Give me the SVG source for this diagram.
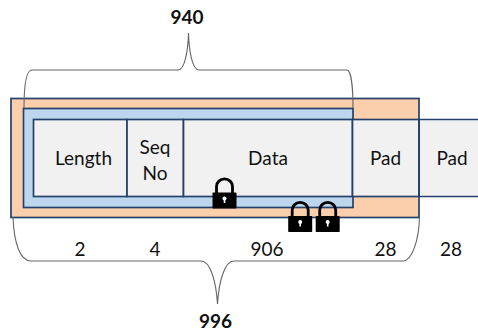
<svg xmlns="http://www.w3.org/2000/svg" width="478" height="334" viewBox="0 0 478 334">
<style>
.box{stroke:#25406b;stroke-width:1.7}
.brace{fill:none;stroke:#666;stroke-width:1.1}
.t{font-family:Lato,"Open Sans",sans-serif;font-size:19px;fill:#111;text-anchor:middle}
.b{font-weight:700}
</style>
<defs>
<g id="lock">
<path d="M-8 1V-6a8 7.600 0 0 1 16 0V1" fill="none" stroke="#000" stroke-width="2.800"/>
<rect x="-12" y="0" width="24" height="16" rx="0.800" fill="#000"/>
<circle cx="0" cy="6" r="2" fill="#fff"/>
<rect x="-0.800" y="6.500" width="1.600" height="4" fill="#fff"/>
</g>
</defs>
<g id="outer-frame"><rect class="box" x="11" y="98.500" width="408" height="119" fill="#fbcfac"/></g>
<g id="inner-frame"><rect class="box" x="23.500" y="108.500" width="329.500" height="99" fill="#bcd6ee"/></g>
<g id="cell-length"><rect class="box" x="33.500" y="119.500" width="93.500" height="77" fill="#f1f1f1"/><text class="t" x="83.500" y="165">Length</text></g>
<g id="cell-seq"><rect class="box" x="127" y="119.500" width="56.500" height="77" fill="#f1f1f1"/><text class="t" x="155" y="154">Seq</text><text class="t" x="155" y="180">No</text></g>
<g id="cell-data"><rect class="box" x="183.500" y="119.500" width="169" height="77" fill="#f1f1f1"/><text class="t" x="268" y="165">Data</text></g>
<g id="cell-pad1"><rect class="box" x="352.500" y="119.500" width="66.500" height="77" fill="#f1f1f1"/><text class="t" x="385.500" y="165">Pad</text></g>
<g id="cell-pad2"><path d="M478 120.300H420V195.700H478" fill="#f1f1f1"/><path class="box" d="M478 119.500H419V196.500H478" fill="none"/><text class="t" x="452" y="165">Pad</text></g>
<g id="connectors">
<path class="brace" d="M24 108C24 88 26 70 32 70H178C185 70 188 50 188.500 33C189 50 192 70 199 70H347C351 70 353 88 353 108"/>
<path class="brace" d="M13 217C14 243 20 261 31 261H201C210 261 216 280 217.500 304C219 280 225 261 234 261H403C412 261 419 240 419.500 217"/>
</g>
<g id="lock-1"><use href="#lock" transform="translate(224.500 192.500)"/></g>
<g id="lock-2"><use href="#lock" transform="translate(300.200 216)"/></g>
<g id="lock-3"><use href="#lock" transform="translate(327.700 216)"/></g>
<g id="labels">
<text class="t b" x="187" y="24">940</text>
<text class="t" x="80" y="256">2</text>
<text class="t" x="155" y="256">4</text>
<text class="t" x="267" y="256">906</text>
<text class="t" x="385.500" y="256">28</text>
<text class="t" x="451" y="256">28</text>
<text class="t b" x="215.500" y="328">996</text>
</g>
</svg>
